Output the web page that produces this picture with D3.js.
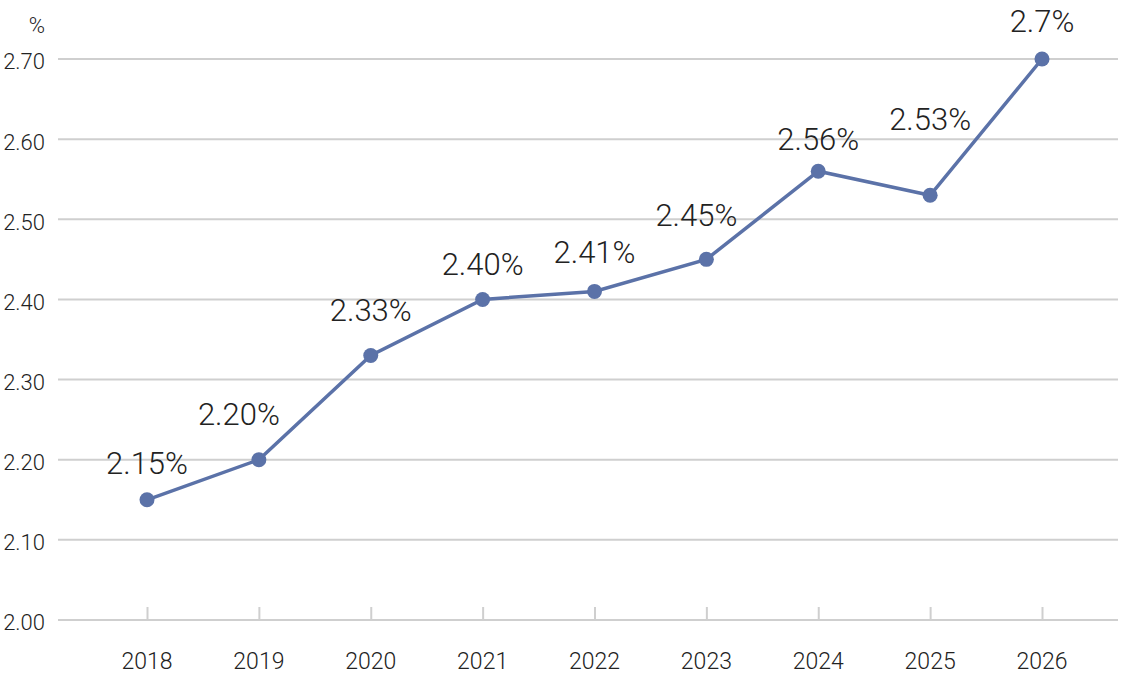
<!DOCTYPE html>
<html>
<head>
<meta charset="utf-8">
<script src="https://cdn.jsdelivr.net/npm/d3@7"></script>
<style>
  body { margin: 0; background: #fff; }
  text { font-family: Roboto, "Noto Sans", sans-serif; font-weight: 300; fill: #222; }
</style>
</head>
<body>
<script>
// chart data
var years = ['2018', '2019', '2020', '2021', '2022', '2023', '2024', '2025', '2026'];
var rates = [2.15, 2.20, 2.33, 2.40, 2.41, 2.45, 2.56, 2.53, 2.70];
var rateLabels = ['2.15%', '2.20%', '2.33%', '2.40%', '2.41%', '2.45%', '2.56%', '2.53%', '2.7%'];
var yTicks = [2.00, 2.10, 2.20, 2.30, 2.40, 2.50, 2.60, 2.70];

// label nudges (layout only), in px relative to the point
var labelDx = [0, -20, 0, 0, 0, -10, 0, 0, 0];
var labelDy = [-26, -35, -35, -24, -28, -33, -21, -65, -27];

var width = 1124, height = 675;
var lineColor = '#5b72a8';

var svg = d3.select('body').append('svg')
  .attr('width', width)
  .attr('height', height);

var x = d3.scalePoint()
  .domain(years)
  .range([147, 1042]);

var y = d3.scaleLinear()
  .domain([2.0, 2.7])
  .range([620, 59]);

// horizontal grid
svg.append('g')
  .selectAll('line')
  .data(yTicks)
  .enter()
  .append('line')
  .attr('x1', 58)
  .attr('x2', 1118)
  .attr('y1', function(d) { return y(d); })
  .attr('y2', function(d) { return y(d); })
  .attr('stroke', '#cfcfcf')
  .attr('stroke-width', 2);

// y labels
var yAxis = svg.append('g')
  .attr('transform', 'translate(45,0)')
  .call(d3.axisLeft(y).tickValues(yTicks).tickSize(0).tickPadding(0).tickFormat(d3.format('.2f')));
yAxis.select('.domain').remove();
yAxis.selectAll('text')
  .attr('font-size', 22)
  .attr('dy', '0.45em')
  .style('font-family', 'Roboto, sans-serif');

svg.append('text')
  .attr('x', 45)
  .attr('y', 33)
  .attr('text-anchor', 'end')
  .attr('font-size', 22)
  .text('%');

// x axis: small ticks up from the baseline
var xAxis = svg.append('g')
  .attr('transform', 'translate(0,' + y(2.0) + ')')
  .call(d3.axisTop(x).tickSize(13).tickFormat(''));
xAxis.select('.domain').remove();
xAxis.selectAll('line')
  .attr('stroke', '#cfcfcf')
  .attr('stroke-width', 2);

svg.append('g')
  .selectAll('text')
  .data(years)
  .enter()
  .append('text')
  .attr('x', function(d) { return x(d); })
  .attr('y', 669)
  .attr('text-anchor', 'middle')
  .attr('font-size', 23)
  .text(function(d) { return d; });

// line
var line = d3.line()
  .x(function(d, i) { return x(years[i]); })
  .y(function(d) { return y(d); });

svg.append('path')
  .datum(rates)
  .attr('d', line)
  .attr('fill', 'none')
  .attr('stroke', lineColor)
  .attr('stroke-width', 3.5);

svg.append('g')
  .selectAll('circle')
  .data(rates)
  .enter()
  .append('circle')
  .attr('cx', function(d, i) { return x(years[i]); })
  .attr('cy', function(d) { return y(d); })
  .attr('r', 7.5)
  .attr('fill', lineColor);

// value labels
svg.append('g')
  .selectAll('text')
  .data(rates)
  .enter()
  .append('text')
  .attr('x', function(d, i) { return x(years[i]) + labelDx[i]; })
  .attr('y', function(d, i) { return y(d) + labelDy[i]; })
  .attr('text-anchor', 'middle')
  .attr('font-size', 31)
  .text(function(d, i) { return rateLabels[i]; });
</script>
</body>
</html>
